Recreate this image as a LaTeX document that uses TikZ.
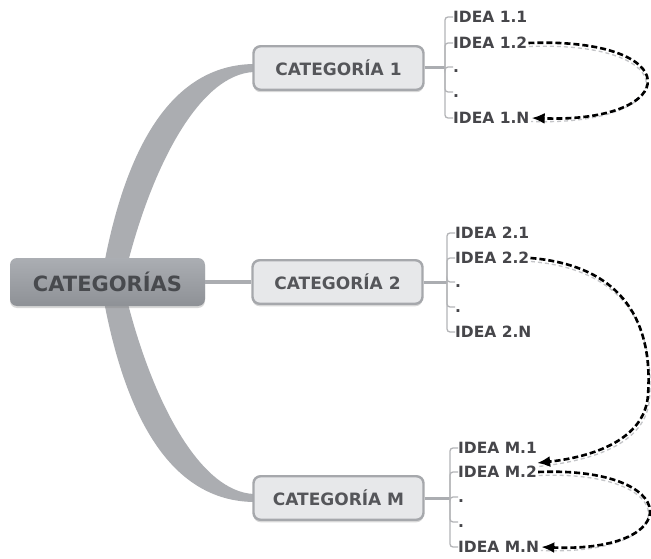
\documentclass[tikz,border=0pt]{standalone}
\usepackage{fontspec}
\setmainfont{DejaVu Sans}
\usetikzlibrary{arrows.meta,shadows}

\definecolor{branchc}{HTML}{ABADB1}
\definecolor{catline}{HTML}{A6A8AC}
\definecolor{catfill}{HTML}{E7E8EA}
\definecolor{cattext}{HTML}{55565A}
\definecolor{roottop}{HTML}{ABAEB3}
\definecolor{rootbot}{HTML}{8E9196}
\definecolor{roottext}{HTML}{484A4E}
\definecolor{ideatext}{HTML}{46464A}
\definecolor{twigc}{HTML}{B3B4B7}
\definecolor{shadec}{HTML}{C4C5C8}

\tikzset{
  rootbox/.style={rounded corners=7pt, minimum width=195pt, minimum height=48pt,
    inner sep=0pt, top color=roottop, bottom color=rootbot, text=roottext,
    font=\bfseries\fontsize{21}{21}\selectfont,
    drop shadow={shadow xshift=0pt, shadow yshift=-2pt, opacity=0.3}},
  catbox/.style={draw=catline, line width=2.4pt, fill=catfill, rounded corners=7pt,
    minimum width=170pt, minimum height=43.5pt, inner sep=0pt, text=cattext,
    font=\bfseries\fontsize{17}{17}\selectfont,
    drop shadow={shadow xshift=0pt, shadow yshift=-2.5pt, opacity=0.3}},
  idea/.style={anchor=west, inner sep=0pt, text height=11pt, text depth=0pt,
    text=ideatext, font=\bfseries\fontsize{15.5}{15.5}\selectfont},
  twig/.style={draw=twigc, line width=1.3pt, rounded corners=3pt},
  stem/.style={draw=branchc, line width=3pt},
  flow/.style={draw=black, line width=2.6pt, dash pattern=on 6pt off 3pt,
    -{Latex[length=13pt,width=11pt]}},
  flowshade/.style={draw=shadec, line width=1.3pt, dash pattern=on 4pt off 3pt,
    transform canvas={shift={(1.5pt,-3.5pt)}}},
}

\begin{document}
\begin{tikzpicture}[x=1pt,y=-1pt]
\useasboundingbox[fill=white] (0,0) rectangle (651,559);

% tapered branches from the central topic
\fill[branchc] (103,270) .. controls (125,150) and (170,65) .. (254,64)
  -- (254,72) .. controls (200,74) and (152,165) .. (126,270) -- cycle;
\fill[branchc] (103,296) .. controls (125,416) and (170,501) .. (254,502)
  -- (254,494) .. controls (200,492) and (152,401) .. (126,296) -- cycle;

% central topic and categories
\node[rootbox] (root) at (107.5,282) {CATEGORÍAS};
\node[catbox] (c1) at (338.5,68) {CATEGORÍA 1};
\node[catbox] (c2) at (337.5,282) {CATEGORÍA 2};
\node[catbox] (cM) at (338.5,498) {CATEGORÍA M};

\draw[branchc, line width=4pt] (root.east) -- (c2.west);

% ideas of category 1
\node[idea] (i11) at (453,17)  {IDEA 1.1};
\node[idea] (i12) at (453,43)  {IDEA 1.2};
\node[idea] (i1a) at (453,67)  {.};
\node[idea] (i1b) at (453,92)  {.};
\node[idea] (i1N) at (453,118) {IDEA 1.N};
\coordinate (b1) at (445,68);

% ideas of category 2
\node[idea] (i21) at (455,233) {IDEA 2.1};
\node[idea] (i22) at (455,258) {IDEA 2.2};
\node[idea] (i2a) at (455,282) {.};
\node[idea] (i2b) at (455,307) {.};
\node[idea] (i2N) at (455,332) {IDEA 2.N};
\coordinate (b2) at (447,282);

% ideas of category M
\node[idea] (iM1) at (458,448) {IDEA M.1};
\node[idea] (iM2) at (458,472) {IDEA M.2};
\node[idea] (iMa) at (458,497) {.};
\node[idea] (iMb) at (458,522) {.};
\node[idea] (iMN) at (458,547) {IDEA M.N};
\coordinate (bM) at (450,498);

% stems and brackets
\foreach \c/\b/\p in {c1/b1/1, c2/b2/2, cM/bM/M}{
  \draw[stem] (\c.east) -- (\b);
  \draw[twig] (i\p1.west) -| (\b);
  \draw[twig] (\b) |- (i\p N.west);
  \draw[twig] (\b) |- (i\p2.west);
  \draw[twig] (\b) |- (i\p a.west);
  \draw[twig] (\b) |- (i\p b.west);
}

% dashed flow arrows between ideas
\coordinate (turn2) at (648,395);
\draw[flowshade] (i12.east) .. controls +(158,-6) and +(152,5) .. (i1N.east);
\draw[flow] ([xshift=1pt]i12.east) .. controls +(158,-6) and +(152,5) .. ([xshift=2pt]i1N.east);

\draw[flowshade] (i22.east) .. controls +(95,8) and +(5,-70) .. (turn2)
  .. controls +(-3,45) and +(55,-6) .. ([yshift=9pt]iM2.east);
\draw[flow] ([xshift=1pt]i22.east) .. controls +(95,8) and +(5,-70) .. (turn2)
  .. controls +(-3,45) and +(55,-6) .. ([yshift=9pt]iM2.east);

\draw[flowshade] (iM2.east) .. controls +(145,-6) and +(145,6) .. (iMN.east);
\draw[flow] ([xshift=1pt]iM2.east) .. controls +(145,-6) and +(145,6) .. ([xshift=2pt]iMN.east);
\end{tikzpicture}
\end{document}
